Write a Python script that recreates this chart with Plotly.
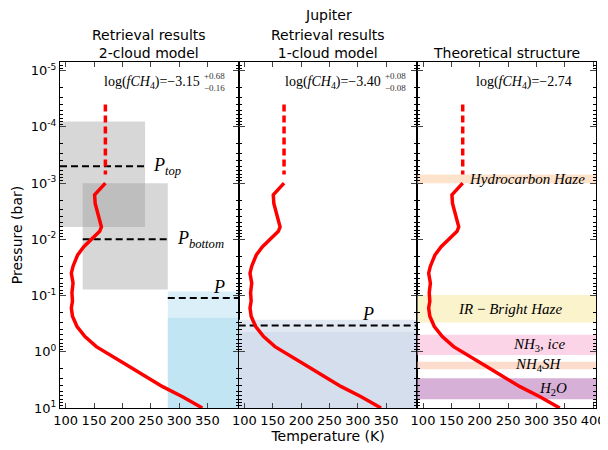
import numpy as np
import plotly.graph_objects as go
from plotly.subplots import make_subplots

# temperature profile (same in every panel)
temp_K = [170, 160, 151, 152, 156, 160, 163, 160, 148, 132, 121, 113, 110, 113,
          111, 112, 110, 112, 120, 134, 154, 178, 207, 236, 271, 306, 341]
pres_bar = [1.0e-3, 1.26e-3, 1.62e-3, 2.29e-3, 3.39e-3, 4.47e-3, 6.0e-3, 7.2e-3,
            9.5e-3, 0.0135, 0.019, 0.030, 0.040, 0.060, 0.089, 0.126, 0.166,
            0.234, 0.355, 0.537, 0.81, 1.15, 1.7, 2.57, 4.17, 6.3, 10.0]
upper_T = [170, 170]
upper_P = [4e-5, 7e-4]

# 2-cloud retrieval
top_box_T = [90, 240]
top_box_P = [8e-5, 6e-3]
bottom_box_T = [130, 280]
bottom_box_P = [1e-3, 0.078]
p_top = 5e-4
p_bottom = 0.01
deep_T = [280, 405]
deep_P_light = [0.085, 0.245]
deep_P_dark = [0.245, 10]
deep_p = 0.11

# 1-cloud retrieval
one_T = [90, 405]
one_P_light = [0.27, 0.44]
one_P_dark = [0.44, 10]
one_p = 0.34

# theoretical cloud layers
band_names = ["<i>Hydrocarbon Haze</i>", "<i>IR</i> − <i>Bright Haze</i>",
              "<i>NH</i><sub>3</sub><i>, ice</i>", "<i>NH</i><sub>4</sub><i>SH</i>",
              "<i>H</i><sub>2</sub><i>O</i>"]
band_top = [7e-4, 0.098, 0.50, 1.5, 2.95]
band_bottom = [1e-3, 0.30, 1.14, 2.04, 7.0]
band_colors = ["#fde3cc", "#fbf3cc", "#fcd4e8", "#fcdccc", "#d6b0d6"]

ch4_main = ["log(<i>fCH</i><sub>4</sub>)=−3.15", "log(<i>fCH</i><sub>4</sub>)=−3.40",
            "log(<i>fCH</i><sub>4</sub>)=−2.74"]
ch4_err = ["+0.68<br>−0.16", "+0.08<br>−0.08", ""]

p_ticks = [1e-5, 1e-4, 1e-3, 1e-2, 1e-1, 1, 10]
p_ticktext = ["10<sup>-5</sup>", "10<sup>-4</sup>", "10<sup>-3</sup>", "10<sup>-2</sup>",
              "10<sup>-1</sup>", "10<sup>0</sup>", "10<sup>1</sup>"]

SERIF = "Liberation Serif"
SANS = "DejaVu Sans"

fig = make_subplots(rows=1, cols=3, shared_yaxes=True, horizontal_spacing=0)


def box(T, P, color, col):
    fig.add_trace(go.Scatter(
        x=[T[0], T[1], T[1], T[0], T[0]], y=[P[0], P[0], P[1], P[1], P[0]],
        fill="toself", fillcolor=color, mode="lines", line=dict(width=0),
        hoverinfo="skip", showlegend=False), row=1, col=col)


def hline(T, p, col):
    fig.add_trace(go.Scatter(
        x=T, y=[p, p], mode="lines", line=dict(color="black", width=2, dash="7px,4px"),
        showlegend=False), row=1, col=col)


# panel 1 clouds
box(top_box_T, top_box_P, "rgba(150,150,150,0.38)", 1)
box(bottom_box_T, bottom_box_P, "rgba(150,150,150,0.38)", 1)
box(deep_T, deep_P_light, "#daeff8", 1)
box(deep_T, deep_P_dark, "#c2e5f4", 1)
hline(top_box_T, p_top, 1)
hline(bottom_box_T, p_bottom, 1)
hline(deep_T, deep_p, 1)

# panel 2 cloud
box(one_T, one_P_light, "#e1e8f2", 2)
box(one_T, one_P_dark, "#d5deed", 2)
hline(one_T, one_p, 2)

# panel 3 layers
for top, bot, c in zip(band_top, band_bottom, band_colors):
    box(one_T, [top, bot], c, 3)

for col in (1, 2, 3):
    fig.add_trace(go.Scatter(x=upper_T, y=upper_P, mode="lines",
                             line=dict(color="red", width=3.5, dash="7px,4px"),
                             showlegend=False), row=1, col=col)
    fig.add_trace(go.Scatter(x=temp_K, y=pres_bar, mode="lines",
                             line=dict(color="red", width=3.5),
                             showlegend=False), row=1, col=col)

ann = []


def label(text, x, y, col, xanchor="left", size=14):
    xr = "x" if col == 1 else f"x{col}"
    yr = "y" if col == 1 else f"y{col}"
    ann.append(dict(text=text, x=x, y=np.log10(y), xref=xr, yref=yr,
                    xanchor=xanchor, yanchor="middle", showarrow=False,
                    font=dict(family=SERIF, size=size, color="black")))


label("<i>P</i><sub><i>top</i></sub>", 250, p_top, 1, size=18)
label("<i>P</i><sub><i>bottom</i></sub>", 293, p_bottom, 1, size=18)
label("<i>P</i>", 356, 0.07, 1, size=18)
label("<i>P</i>", 304, 0.21, 2, size=18)

label(band_names[0], 178, 8.4e-4, 3, size=15)
label(band_names[1], 254, 0.173, 3, xanchor="center", size=15)
label(band_names[2], 354, 0.76, 3, xanchor="right", size=15)
label(band_names[3], 348, 1.74, 3, xanchor="right", size=15)
label(band_names[4], 358, 4.5, 3, xanchor="right", size=15)

ch4_x = [341, 344, 366]
for i in range(3):
    label(ch4_main[i], ch4_x[i], 1.6e-5, i + 1, xanchor="right", size=14)
    if ch4_err[i]:
        a = dict(text=ch4_err[i], x=ch4_x[i], y=np.log10(1.6e-5),
                 xref="x" if i == 0 else f"x{i+1}", yref="y" if i == 0 else f"y{i+1}",
                 xanchor="left", yanchor="middle", showarrow=False,
                 font=dict(family=SERIF, size=9, color="#333"))
        ann.append(a)

# titles
titles = ["Retrieval results<br>2-cloud model", "Retrieval results<br>1-cloud model",
          "Theoretical structure"]
for i, t in enumerate(titles):
    ann.append(dict(text=t, x=(i + 0.5) / 3, y=1, xref="paper", yref="paper",
                    xanchor="center", yanchor="bottom", yshift=-1, showarrow=False,
                    font=dict(family=SANS, size=14, color="black")))
ann.append(dict(text="Jupiter", x=0.5, y=1.135, xref="paper", yref="paper",
                xanchor="center", yanchor="middle", showarrow=False,
                font=dict(family=SANS, size=14, color="black")))

# page body adds an 8px offset, so the figure is 8px smaller on each side
fig.update_layout(
    width=600, height=442, margin=dict(l=52, r=12, t=54, b=42),
    paper_bgcolor="white", plot_bgcolor="white", showlegend=False,
    annotations=ann, font=dict(family=SANS, size=12, color="black"),
)

for col in (1, 2, 3):
    ticks = [100, 150, 200, 250, 300, 350] + ([400] if col == 3 else [])
    fig.update_xaxes(range=[90, 405], tickvals=ticks, ticks="inside", ticklen=5,
                     showline=True, linecolor="black", linewidth=1, mirror="ticks",
                     showgrid=False, zeroline=False, tickfont=dict(size=13),
                     automargin=False, row=1, col=col)
    fig.update_yaxes(type="log", range=[1, np.log10(7e-6)],
                     tickvals=p_ticks, ticktext=p_ticktext, ticks="inside", ticklen=6,
                     minor=dict(ticks="inside", ticklen=3, tickcolor="black",
                                dtick="D1", showgrid=False),
                     showline=True, linecolor="black", linewidth=1, mirror="ticks",
                     showgrid=False, zeroline=False, tickfont=dict(size=13),
                     showticklabels=(col == 1), automargin=False, row=1, col=col)

fig.update_yaxes(title=dict(text="Pressure (bar)", font=dict(size=14), standoff=4), row=1, col=1)
fig.update_xaxes(title=dict(text="Temperature (K)", font=dict(size=14), standoff=2), row=1, col=2)

fig.write_html("out.html")
